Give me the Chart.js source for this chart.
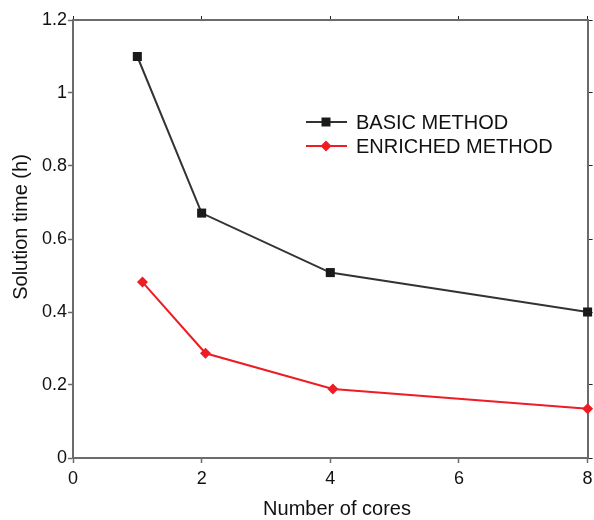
<!DOCTYPE html>
<html>
<head>
<meta charset="utf-8">
<script src="https://cdn.jsdelivr.net/npm/chart.js@4"></script>
<style>
  html, body { margin: 0; padding: 0; background: #fff; }
  #wrap { width: 594px; height: 520px; }
</style>
</head>
<body>
<div id="wrap"><canvas id="lineChart" width="594" height="520"></canvas></div>
<script>
// values
const basicCores = [1, 2, 4, 8]
const basicTime = [1.10, 0.671, 0.508, 0.40]
const enrichedCores = [1.08, 2.06, 4.04, 8]
const enrichedTime = [0.482, 0.287, 0.189, 0.135]
const xTicks = [0, 2, 4, 6, 8]
const yTicks = [0, 0.2, 0.4, 0.6, 0.8, 1, 1.2]
const seriesNames = ["BASIC METHOD", "ENRICHED METHOD"]
const xTitle = "Number of cores"
const yTitle = "Solution time (h)"

const FONT = "'Liberation Sans', Arial, sans-serif"
const AXIS = "#6b6b6b"
const BASIC = "#333333"
const BASIC_PT = "#1a1a1a"
const RED = "#ee1c25"

function pts(xs, ys) {
    return xs.map((x, i) => ({ x: x, y: ys[i] }))
}

// draws the legend box and both axis titles
const extras = {
    id: "extras",
    afterDraw(chart) {
        const ctx = chart.ctx
        ctx.save()
        const items = [
            { name: seriesNames[0], color: BASIC, fill: BASIC_PT, style: "rect", y: 122 },
            { name: seriesNames[1], color: RED, fill: RED, style: "diamond", y: 146 }
        ]
        items.forEach(it => {
            ctx.strokeStyle = it.color
            ctx.lineWidth = 2
            ctx.beginPath()
            ctx.moveTo(306, it.y)
            ctx.lineTo(347, it.y)
            ctx.stroke()
            ctx.fillStyle = it.fill
            ctx.beginPath()
            if (it.style === "rect") {
                ctx.rect(326 - 4.5, it.y - 4.5, 9, 9)
            } else {
                ctx.moveTo(326 - 5.5, it.y)
                ctx.lineTo(326, it.y - 5.5)
                ctx.lineTo(326 + 5.5, it.y)
                ctx.lineTo(326, it.y + 5.5)
                ctx.closePath()
            }
            ctx.fill()
            ctx.fillStyle = "#111"
            ctx.font = "20px " + FONT
            ctx.textAlign = "left"
            ctx.textBaseline = "middle"
            ctx.fillText(it.name, 356, it.y + 1)
        })

        ctx.fillStyle = "#111"
        ctx.font = "20px " + FONT
        ctx.textAlign = "center"
        ctx.textBaseline = "alphabetic"
        ctx.fillText(xTitle, 337, 515)

        ctx.translate(27, 227)
        ctx.rotate(-Math.PI / 2)
        ctx.fillText(yTitle, 0, 0)
        ctx.restore()
    }
}

const config = {
    type: "scatter",
    data: {
        datasets: [{
            label: seriesNames[0],
            data: pts(basicCores, basicTime),
            showLine: true,
            borderColor: BASIC,
            borderWidth: 2,
            backgroundColor: BASIC_PT,
            pointStyle: "rect",
            pointRadius: 6.4,
            pointBorderWidth: 0,
            pointBackgroundColor: BASIC_PT,
            clip: false
        }, {
            label: seriesNames[1],
            data: pts(enrichedCores, enrichedTime),
            showLine: true,
            borderColor: RED,
            borderWidth: 2,
            backgroundColor: RED,
            pointStyle: "rectRot",
            pointRadius: 5.5,
            pointBorderWidth: 0,
            pointBackgroundColor: RED,
            clip: false
        }]
    },
    options: {
        responsive: false,
        animation: false,
        layout: { padding: { top: 16, right: 0, bottom: 0, left: 0 } },
        plugins: {
            legend: { display: false },
            tooltip: { enabled: false }
        },
        scales: {
            x: {
                type: "linear",
                position: "bottom",
                min: 0, max: 8,
                afterBuildTicks: s => { s.ticks = xTicks.map(v => ({ value: v })) },
                ticks: { font: { size: 18, family: FONT }, color: "#111", padding: 5, maxRotation: 0 },
                grid: { drawOnChartArea: false, tickLength: 5, color: AXIS, tickWidth: 1.5 },
                border: { color: AXIS, width: 2 },
                afterFit: s => { s.height = 62; s.paddingLeft = 0; s.paddingRight = 0 }
            },
            x2: {
                type: "linear",
                position: "top",
                min: 0, max: 8,
                afterBuildTicks: s => { s.ticks = xTicks.map(v => ({ value: v })) },
                ticks: { display: false },
                grid: { drawOnChartArea: false, tickLength: 4, color: "#222", tickWidth: 1 },
                border: { color: AXIS, width: 2 },
                afterFit: s => { s.height = 4; s.paddingLeft = 0; s.paddingRight = 0 }
            },
            y: {
                type: "linear",
                position: "left",
                min: 0, max: 1.2,
                afterBuildTicks: s => { s.ticks = yTicks.map(v => ({ value: v })) },
                ticks: {
                    font: { size: 18, family: FONT }, color: "#111", padding: 1,
                    callback: v => String(+v.toFixed(1))
                },
                grid: { drawOnChartArea: false, tickLength: 5, color: AXIS, tickWidth: 1.5 },
                border: { color: AXIS, width: 2 },
                afterFit: s => { s.width = 73; s.paddingTop = 0; s.paddingBottom = 0 }
            },
            y2: {
                type: "linear",
                position: "right",
                min: 0, max: 1.2,
                afterBuildTicks: s => { s.ticks = yTicks.map(v => ({ value: v })) },
                ticks: { display: false },
                grid: { drawOnChartArea: false, tickLength: 5, color: "#222", tickWidth: 1 },
                border: { color: AXIS, width: 2 },
                afterFit: s => { s.width = 5; s.paddingTop = 0; s.paddingBottom = 0 }
            }
        }
    },
    plugins: [extras]
}

var chart = new Chart(document.getElementById("lineChart"), config)
</script>
</body>
</html>
